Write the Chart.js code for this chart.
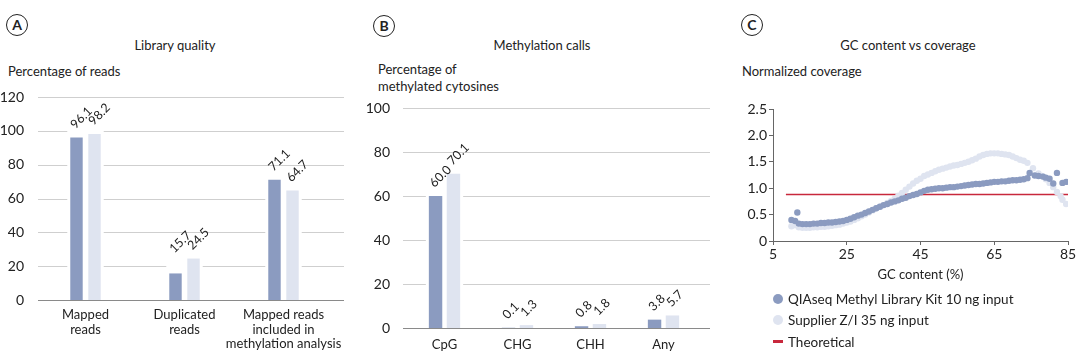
<!DOCTYPE html>
<html>
<head>
<meta charset="utf-8">
<script src="https://cdn.jsdelivr.net/npm/chart.js@4.4.1/dist/chart.umd.min.js"></script>
<style>
body { margin: 0; width: 1080px; height: 358px; background: #fff; font-family: Lato, sans-serif; color: #222; position: relative; overflow: hidden; }
.badge { position: absolute; width: 20px; height: 20px; border: 1.5px solid #222; border-radius: 50%; text-align: center; line-height: 20px; font-size: 14px; font-weight: bold; color: #222; transform: translate(-50%, -50%); }
.title { position: absolute; font-size: 13px; line-height: 17px; color: #222; transform: translate(-50%, -50%); white-space: nowrap; }
.ytitle { position: absolute; font-size: 13px; line-height: 17px; color: #222; white-space: nowrap; }
.box { position: absolute; }
#legend { position: absolute; left: 773px; top: 288px; font-size: 13.5px; color: #222; }
.row { height: 21.5px; display: flex; align-items: center; }
.sw { width: 10px; margin-right: 5px; }
</style>
</head>
<body>

<div class="badge" style="left:17px; top:25px">A</div>
<div class="badge" style="left:384px; top:26px">B</div>
<div class="badge" style="left:752px; top:25px">C</div>

<div class="title" style="left:175px; top:45px">Library quality</div>
<div class="title" style="left:542px; top:45px">Methylation calls</div>
<div class="title" style="left:908px; top:45px">GC content vs coverage</div>

<div class="ytitle" style="left:8px; top:63px">Percentage of reads</div>
<div class="ytitle" style="left:378px; top:61px">Percentage of<br>methylated cytosines</div>
<div class="ytitle" style="left:742px; top:63px">Normalized coverage</div>

<div class="box" style="left:0px; top:80px; width:360px; height:278px"><canvas id="chartA"></canvas></div>
<div class="box" style="left:360px; top:80px; width:360px; height:278px"><canvas id="chartB"></canvas></div>
<div class="box" style="left:720px; top:80px; width:360px; height:210px"><canvas id="chartC"></canvas></div>
<div id="legend"></div>

<script>
// Panel A - library quality
const libraryCategories = [["Mapped", "reads"], ["Duplicated", "reads"], ["Mapped reads", "included in", "methylation analysis"]]
const libraryQiaseq = [96.1, 15.7, 71.1]
const librarySupplier = [98.2, 24.5, 64.7]

// Panel B - methylation calls
const methylCategories = ["CpG", "CHG", "CHH", "Any"]
const methylQiaseq = [60.0, 0.1, 0.8, 3.8]
const methylSupplier = [70.1, 1.3, 1.8, 5.7]

// Panel C - GC content vs coverage
const gcQiaseqX = [10, 11, 11.6, 12, 13, 14, 15, 16, 17, 18, 19, 20, 21, 22, 23, 24, 25, 26, 27, 28, 29,
    30, 31, 32, 33, 34, 35, 36, 37, 38, 39, 40, 41, 42, 43, 44, 45, 46, 47, 48, 49,
    50, 51, 52, 53, 54, 55, 56, 57, 58, 59, 60, 61, 62, 63, 64, 65, 66, 67, 68, 69,
    70, 71, 72, 73, 74, 74.6, 76, 77, 78.2, 79, 80, 81, 82, 83.5, 84.5]
const gcQiaseqY = [0.40, 0.38, 0.54, 0.33, 0.32, 0.32, 0.32, 0.33, 0.33, 0.34, 0.34, 0.35, 0.35, 0.36, 0.37, 0.38, 0.40, 0.42, 0.45, 0.48, 0.50,
    0.53, 0.56, 0.59, 0.62, 0.65, 0.68, 0.70, 0.73, 0.75, 0.77, 0.80, 0.82, 0.85, 0.87, 0.89, 0.92, 0.95, 0.97, 0.98, 0.99,
    1.00, 1.00, 1.01, 1.02, 1.02, 1.03, 1.04, 1.05, 1.06, 1.07, 1.08, 1.08, 1.09, 1.10, 1.11, 1.12, 1.12, 1.13, 1.13, 1.14,
    1.15, 1.15, 1.16, 1.17, 1.19, 1.29, 1.24, 1.23, 1.22, 1.20, 1.18, 1.09, 1.29, 1.10, 1.12]
const gcSupplierX = [10, 11, 12, 13, 14, 15, 16, 17, 18, 19, 20, 21, 22, 23, 24, 25, 26, 27, 28, 29,
    30, 31, 32, 33, 34, 35, 36, 37, 38, 39, 40, 41, 42, 43, 44, 45, 46, 47, 48, 49,
    50, 51, 52, 53, 54, 55, 56, 57, 58, 59, 60, 61, 62, 63, 64, 65, 66, 67, 68, 69,
    70, 71, 72, 73, 74, 75.5, 77, 78, 79, 80, 81, 82, 83, 83.5, 84.5]
const gcSupplierY = [0.28, 0.30, 0.26, 0.25, 0.25, 0.25, 0.26, 0.26, 0.27, 0.27, 0.28, 0.29, 0.30, 0.31, 0.33, 0.35, 0.37, 0.40, 0.43, 0.47,
    0.50, 0.54, 0.58, 0.62, 0.65, 0.68, 0.72, 0.76, 0.80, 0.86, 0.91, 0.97, 1.03, 1.09, 1.14, 1.18, 1.23, 1.26, 1.29, 1.32,
    1.35, 1.37, 1.39, 1.41, 1.43, 1.44, 1.46, 1.48, 1.50, 1.53, 1.56, 1.60, 1.63, 1.65, 1.66, 1.66, 1.66, 1.65, 1.64, 1.63,
    1.60, 1.57, 1.54, 1.52, 1.48, 1.38, 1.28, 1.23, 1.17, 1.10, 1.02, 0.93, 0.85, 0.78, 0.70]
const theoreticalX = [8.5, 85]
const theoreticalY = [0.88, 0.88]

const seriesNames = ["QIAseq Methyl Library Kit 10 ng input", "Supplier Z/I 35 ng input", "Theoretical"]
const seriesColors = ["#8b9bc0", "#dfe4f0", "#c8283c"]

Chart.defaults.font.family = "Lato, sans-serif"
Chart.defaults.color = "#222"

// Gridlines, white group backgrounds and rotated value labels for the bar panels
const barDecor = {
    id: "barDecor",
    beforeDatasetsDraw(chart, args, opts) {
        const ctx = chart.ctx
        const area = chart.chartArea
        const y = chart.scales.y
        ctx.save()
        y.ticks.forEach(function(t){
            const py = Math.round(y.getPixelForValue(t.value)) + 0.5
            ctx.strokeStyle = t.value === 0 ? "#8a8a8a" : "#cfcfcf"
            ctx.lineWidth = 1
            ctx.beginPath()
            ctx.moveTo(area.left - opts.extL, py)
            ctx.lineTo(area.right + opts.extR, py)
            ctx.stroke()
        })
        const m0 = chart.getDatasetMeta(0)
        const m1 = chart.getDatasetMeta(1)
        const base = y.getPixelForValue(0)
        m0.data.forEach(function(bar, i){
            const bar2 = m1.data[i]
            const left = bar.x - bar.width / 2 - 3
            const right = bar2.x + bar2.width / 2 + 3
            const top = Math.min(bar.y, bar2.y) - 6
            ctx.fillStyle = "#fff"
            ctx.fillRect(left, top, right - left, base - 1 - top)
        })
        ctx.restore()
    },
    afterDatasetsDraw(chart) {
        const ctx = chart.ctx
        const m0 = chart.getDatasetMeta(0)
        const m1 = chart.getDatasetMeta(1)
        ctx.save()
        ctx.font = "12.5px Lato, sans-serif"
        ctx.fillStyle = "#222"
        ctx.textAlign = "left"
        ctx.textBaseline = "alphabetic"
        m0.data.forEach(function(bar, i){
            const bar2 = m1.data[i]
            const text1 = chart.data.datasets[0].data[i].toFixed(1)
            const text2 = chart.data.datasets[1].data[i].toFixed(1)
            const len = ctx.measureText(text1).width
            const gap = bar2.x - bar.x
            let y1 = bar.y - 8
            const y2 = bar2.y - 8
            // lift the first label when its end would run into the second one
            const diff = y1 - y2
            if (diff > 5 && diff < (len + 3) * Math.SQRT2 - gap) {
                y1 = y2 + 3
            }
            const items = [[bar.x, y1, text1], [bar2.x, y2, text2]]
            items.forEach(function(it){
                ctx.save()
                ctx.translate(it[0] - 1, it[1])
                ctx.rotate(-Math.PI / 4)
                ctx.fillText(it[2], 0, 0)
                ctx.restore()
            })
        })
        ctx.restore()
    }
}

// Build one grouped bar panel
function makeBarChart(id, labels, qiaseq, supplier, s) {
    return new Chart(document.getElementById(id), {
        type: "bar",
        data: {
            labels: labels,
            datasets: [
                { label: seriesNames[0], data: qiaseq, backgroundColor: seriesColors[0] },
                { label: seriesNames[1], data: supplier, backgroundColor: seriesColors[1] }
            ]
        },
        options: {
            responsive: true,
            maintainAspectRatio: false,
            animation: false,
            categoryPercentage: s.catPct,
            barPercentage: s.barPct,
            layout: { padding: { left: 0, right: s.padRight, top: s.padTop, bottom: 0 } },
            plugins: {
                legend: { display: false },
                tooltip: { enabled: false },
                barDecor: { extL: s.extL, extR: s.extR }
            },
            scales: {
                x: {
                    grid: { display: false },
                    border: { display: false },
                    ticks: { font: { size: 13, lineHeight: 1.1 }, color: "#222", padding: s.xPad, maxRotation: 0, autoSkip: false },
                    afterFit: function(scale){ scale.height = s.xHeight }
                },
                y: {
                    min: 0,
                    max: s.yMax,
                    grid: { display: false },
                    border: { display: false },
                    ticks: { stepSize: 20, font: { size: 14 }, color: "#222", padding: s.yPad },
                    afterFit: function(scale){ scale.width = s.yWidth }
                }
            }
        },
        plugins: [barDecor]
    })
}

// Chart C legend, drawn as html
function buildLegend() {
    const legend = document.getElementById("legend")
    for (let i = 0; i < seriesNames.length; i++) {
        const row = document.createElement("div")
        row.className = "row"
        const sw = document.createElement("span")
        sw.className = "sw"
        if (i < 2) {
            sw.style.height = "10px"
            sw.style.borderRadius = "50%"
        } else {
            sw.style.height = "3px"
        }
        sw.style.background = seriesColors[i]
        const text = document.createElement("span")
        text.textContent = seriesNames[i]
        row.appendChild(sw)
        row.appendChild(text)
        legend.appendChild(row)
    }
}

function toPoints(xs, ys) {
    return xs.map(function(x, i){ return { x: x, y: ys[i] } })
}

function makeScatterChart() {
    return new Chart(document.getElementById("chartC"), {
        type: "scatter",
        data: {
            datasets: [
                { label: seriesNames[0], data: toPoints(gcQiaseqX, gcQiaseqY), backgroundColor: seriesColors[0], borderWidth: 0, pointRadius: 3.2 },
                { label: seriesNames[1], data: toPoints(gcSupplierX, gcSupplierY), backgroundColor: seriesColors[1], borderWidth: 0, pointRadius: 3.2 },
                { label: seriesNames[2], data: toPoints(theoreticalX, theoreticalY), showLine: true, borderColor: seriesColors[2], borderWidth: 1.5, pointRadius: 0 }
            ]
        },
        options: {
            responsive: true,
            maintainAspectRatio: false,
            animation: false,
            layout: { padding: { left: 0, right: 12, top: 29, bottom: 0 } },
            plugins: { legend: { display: false }, tooltip: { enabled: false } },
            scales: {
                x: {
                    type: "linear",
                    min: 5,
                    max: 85,
                    grid: { drawOnChartArea: false, drawTicks: true, tickLength: 4, color: "#666" },
                    border: { color: "#666" },
                    ticks: { stepSize: 20, font: { size: 14 }, color: "#222", padding: 1 },
                    title: { display: true, text: "GC content (%)", font: { size: 13 }, color: "#222", padding: { top: 0, bottom: 7 } },
                    afterFit: function(scale){ scale.height = 49 }
                },
                y: {
                    min: 0,
                    max: 2.5,
                    grid: { drawOnChartArea: false, drawTicks: true, tickLength: 4, color: "#666" },
                    border: { color: "#666" },
                    ticks: {
                        stepSize: 0.5, font: { size: 14 }, color: "#222", padding: 2,
                        callback: function(v){ return v === 0 ? "0" : v.toFixed(1) }
                    },
                    afterFit: function(scale){ scale.width = 53 }
                }
            }
        }
    })
}

// Main
makeBarChart("chartA", libraryCategories, libraryQiaseq, librarySupplier,
    { catPct: 0.364, barPct: 0.69, padRight: 27, padTop: 17, extL: -2, extR: 11, xPad: 0, xHeight: 58, yMax: 120, yPad: 4, yWidth: 36 })
makeBarChart("chartB", methylCategories, methylQiaseq, methylSupplier,
    { catPct: 0.49, barPct: 0.75, padRight: 20, padTop: 28, extL: 5, extR: 10, xPad: 2, xHeight: 30, yMax: 100, yPad: 10, yWidth: 48 })
makeScatterChart()
buildLegend()
</script>
</body>
</html>
